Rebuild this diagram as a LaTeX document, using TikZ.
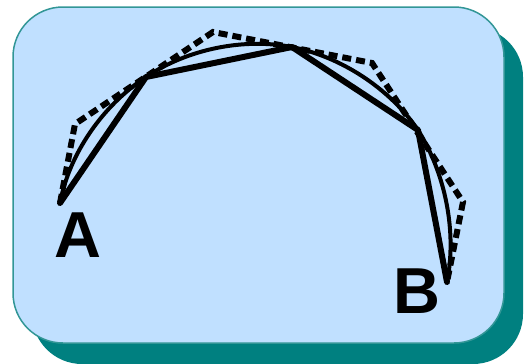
\documentclass[tikz,border=0pt]{standalone}
\usepackage{fontspec}
\setmainfont{Liberation Sans}
\usetikzlibrary{calc}
\definecolor{panelfill}{RGB}{192,224,255}
\definecolor{panelshadow}{RGB}{0,128,128}
\definecolor{panelborder}{RGB}{50,150,150}
\begin{document}
\begin{tikzpicture}[x=1pt,y=-1pt,
  chord/.style={line width=6pt,line cap=round,line join=round},
  arcline/.style={line width=4pt,line cap=round},
  tangent/.style={line width=6pt,dash pattern=on 9pt off 5pt,line join=miter},
  letter/.style={inner sep=0pt,font=\fontsize{65}{65}\selectfont\bfseries}]
\useasboundingbox (0,0) rectangle (528,364);
% shadow and panel
\fill[panelshadow,rounded corners=50pt] (32,27) rectangle (523,364);
\draw[panelborder,fill=panelfill,line width=1.5pt,rounded corners=50pt] (13,7) rectangle (504,343);
% key points
\coordinate (A) at (60,203);
\coordinate (p1) at (146,77);
\coordinate (p2) at (292,47);
\coordinate (p3) at (418,130);
\coordinate (B) at (447,282);
\coordinate (t1) at (75,124);
\coordinate (t2) at (213,32);
\coordinate (t3) at (372,63);
\coordinate (t4) at (463,202);
% smooth arc, tangent to the dashed polygon
\draw[arcline] (A)
  .. controls ($(A)!0.62!(t1)$) and ($(p1)!0.62!(t1)$) .. (p1)
  .. controls ($(p1)!0.62!(t2)$) and ($(p2)!0.62!(t2)$) .. (p2)
  .. controls ($(p2)!0.62!(t3)$) and ($(p3)!0.62!(t3)$) .. (p3)
  .. controls ($(p3)!0.62!(t4)$) and ($(B)!0.62!(t4)$) .. (B);
\draw[chord] (A) -- (p1) -- (p2) -- (p3) -- (B);
\draw[tangent] (A) -- (t1) -- (t2) -- (t3) -- (t4) -- (B);
% labels
\node[letter] (la) at (78,235) {A};
\node[letter] (lb) at (417,291) {B};
\end{tikzpicture}
\end{document}
